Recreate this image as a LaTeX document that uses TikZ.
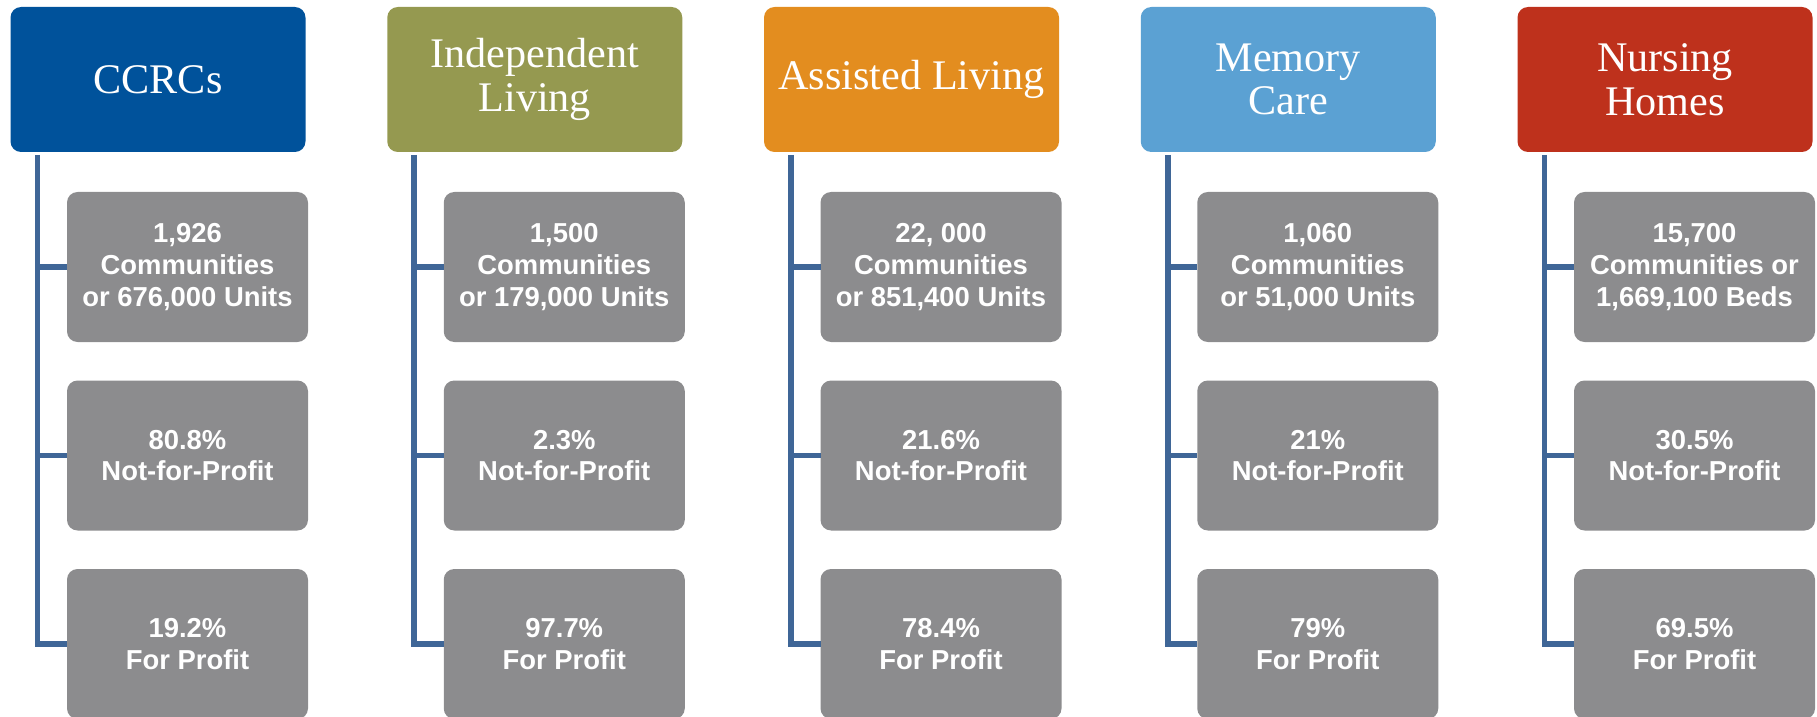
\documentclass[tikz,border=0pt]{standalone}
\usepackage{fontspec}
\setmainfont{Liberation Serif}
\newfontfamily\datafont{Liberation Sans}
\usetikzlibrary{positioning,calc}

\definecolor{ccrcblue}{RGB}{0,82,155}
\definecolor{indepgreen}{RGB}{149,153,80}
\definecolor{assistorange}{RGB}{227,141,31}
\definecolor{memoryblue}{RGB}{91,161,211}
\definecolor{nursingred}{RGB}{190,49,28}
\definecolor{datagray}{RGB}{140,140,142}
\definecolor{trunkblue}{RGB}{63,102,151}

\begin{document}
\begin{tikzpicture}[font=\fontsize{12}{12.4}\selectfont]
\tikzset{
% Two node styles: coloured category header and grey data box
head node/.style={rectangle,rounded corners=3pt,minimum width=2.95cm,minimum height=1.45cm,
  inner sep=0,outer sep=0,align=center,text=white},
data node/.style={rectangle,rounded corners=3pt,fill=datagray,minimum width=2.41cm,minimum height=1.5cm,
  inner sep=0,outer sep=0,align=center,text=white,font=\datafont\bfseries\fontsize{7.8}{9}\selectfont},
trunk/.style={draw=trunkblue,line width=1.65pt}
}
\useasboundingbox (0,0) rectangle (18.17,-7.16);

% The headers
\node(h1)[head node,fill=ccrcblue] at (1.58,-0.795) {CCRCs};
\node(h2)[head node,fill=indepgreen] at (5.3475,-0.795) {Independent\\Living};
\node(h3)[head node,fill=assistorange] at (9.115,-0.795) {Assisted Living};
\node(h4)[head node,fill=memoryblue] at (12.8825,-0.795) {Memory\\Care};
\node(h5)[head node,fill=nursingred] at (16.65,-0.795) {Nursing\\Homes};

% The data boxes, three per header
\node(b11)[data node,below=0.4cm of h1.south,xshift=0.295cm]{1,926\\Communities\\or 676,000 Units};
\node(b12)[data node,below=0.385cm of b11]{80.8\%\\Not-for-Profit};
\node(b13)[data node,below=0.385cm of b12]{19.2\%\\For Profit};

\node(b21)[data node,below=0.4cm of h2.south,xshift=0.295cm]{1,500\\Communities\\or 179,000 Units};
\node(b22)[data node,below=0.385cm of b21]{2.3\%\\Not-for-Profit};
\node(b23)[data node,below=0.385cm of b22]{97.7\%\\For Profit};

\node(b31)[data node,below=0.4cm of h3.south,xshift=0.295cm]{22, 000\\Communities\\or 851,400 Units};
\node(b32)[data node,below=0.385cm of b31]{21.6\%\\Not-for-Profit};
\node(b33)[data node,below=0.385cm of b32]{78.4\%\\For Profit};

\node(b41)[data node,below=0.4cm of h4.south,xshift=0.295cm]{1,060\\Communities\\or 51,000 Units};
\node(b42)[data node,below=0.385cm of b41]{21\%\\Not-for-Profit};
\node(b43)[data node,below=0.385cm of b42]{79\%\\For Profit};

\node(b51)[data node,below=0.4cm of h5.south,xshift=0.295cm]{15,700\\Communities or\\1,669,100 Beds};
\node(b52)[data node,below=0.385cm of b51]{30.5\%\\Not-for-Profit};
\node(b53)[data node,below=0.385cm of b52]{69.5\%\\For Profit};

% trunk lines from each header to its boxes
\foreach \c in {1,...,5}{
  \coordinate (t\c) at ($(h\c.south west)+(0.27,-0.03)$);
  \draw[trunk] (t\c) |- (b\c3.west);
  \draw[trunk] (t\c |- b\c1.west) -- (b\c1.west);
  \draw[trunk] (t\c |- b\c2.west) -- (b\c2.west);
}
\end{tikzpicture}
\end{document}
